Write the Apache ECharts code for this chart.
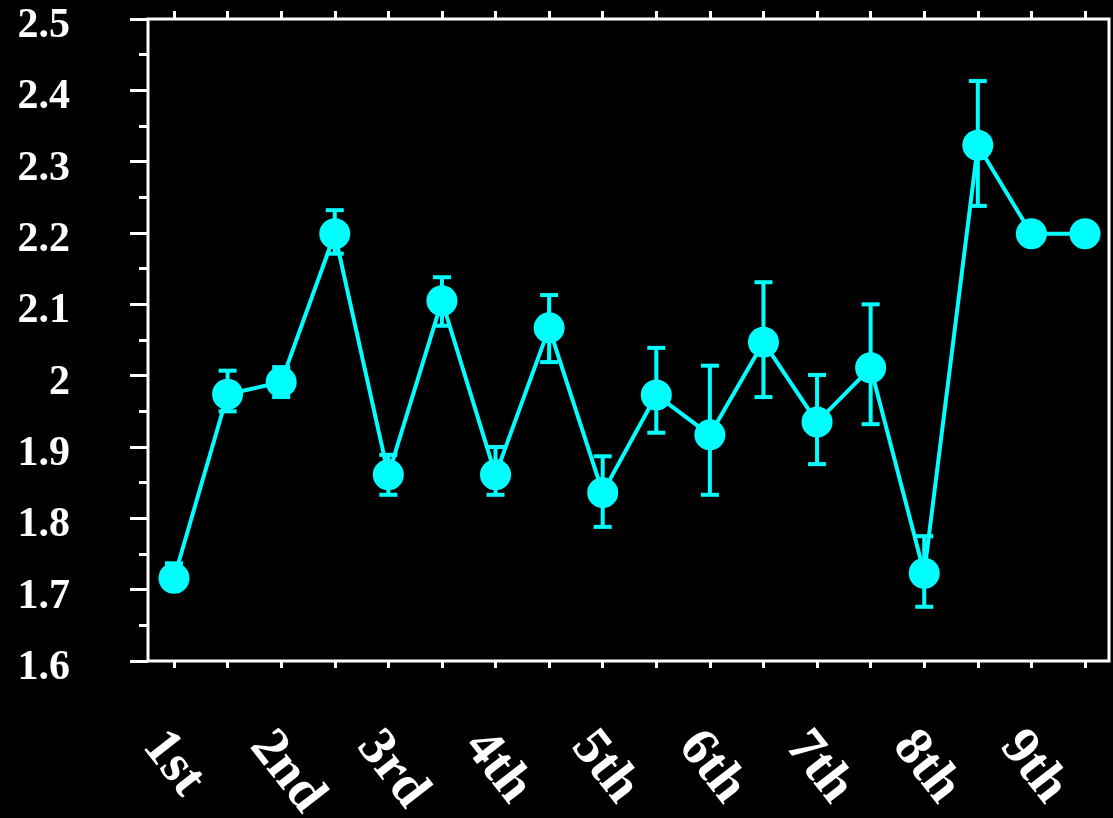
<!DOCTYPE html>
<html>
<head>
<meta charset="utf-8">
<script src="https://cdn.jsdelivr.net/npm/echarts@6/dist/echarts.min.js"></script>
<style>
html,body{margin:0;padding:0;background:#000;}
#chart{width:1113px;height:818px;}
</style>
</head>
<body>
<div id="chart"></div>
<script>
const tickLabels = ['1st','2nd','3rd','4th','5th','6th','7th','8th','9th'];
const means = [1.716,1.974,1.991,2.199,1.861,2.105,1.861,2.067,1.836,1.973,1.917,2.047,1.935,2.011,1.723,2.323,2.199,2.199];
const upper = [1.737,2.007,2.012,2.232,1.889,2.138,1.900,2.113,1.887,2.039,2.014,2.131,2.001,2.100,1.775,2.413,null,null];
const lower = [1.702,1.950,1.970,2.171,1.833,2.070,1.833,2.019,1.788,1.920,1.833,1.970,1.876,1.932,1.676,2.238,null,null];

const CYAN = '#00ffff';
const FONT = '"Liberation Serif","Times New Roman",serif';

const lineData = means.map((v, i) => [i, v]);
const errData = [];
upper.forEach((u, i) => { if (u != null && lower[i] != null) errData.push([i, lower[i], u]); });

const chart = echarts.init(document.getElementById('chart'));
chart.setOption({
  backgroundColor: '#000',
  animation: false,
  grid: [
    { left: 174, right: 28, top: 19, bottom: 157, show: false, containLabel: false, outerBoundsMode: 'none' },
    { left: 148, right: 4, top: 19, bottom: 157, show: true, borderColor: '#fff', borderWidth: 3, backgroundColor: 'transparent', containLabel: false, outerBoundsMode: 'none' }
  ],
  xAxis: [
    {
      gridIndex: 0, type: 'value', min: 0, max: 17, interval: 1, position: 'bottom',
      axisLine: { show: false },
      axisTick: { show: true, inside: false, length: 7, lineStyle: { color: '#fff', width: 3 } },
      splitLine: { show: false },
      axisLabel: {
        show: true, interval: 0, rotate: -52, align: 'left', verticalAlign: 'top', margin: 60,
        color: '#fff', fontFamily: FONT, fontWeight: 'bold', fontSize: 54,
        formatter: v => (v % 2 === 0 ? (tickLabels[v / 2] || '') : '')
      }
    },
    {
      gridIndex: 0, type: 'value', min: 0, max: 17, interval: 1, position: 'top',
      axisLine: { show: false },
      axisTick: { show: true, inside: false, length: 8, lineStyle: { color: '#fff', width: 3 } },
      splitLine: { show: false },
      axisLabel: { show: false }
    },
    { gridIndex: 1, type: 'value', show: false, min: 0, max: 1 }
  ],
  yAxis: [
    { gridIndex: 0, type: 'value', min: 1.6, max: 2.5, show: false },
    {
      gridIndex: 1, type: 'value', min: 1.6, max: 2.5, interval: 0.1, position: 'left',
      axisLine: { show: false },
      axisTick: { show: true, inside: false, length: 18, lineStyle: { color: '#fff', width: 3 } },
      minorTick: { show: true, splitNumber: 2, length: 9, lineStyle: { color: '#fff', width: 3 } },
      splitLine: { show: false },
      minorSplitLine: { show: false },
      axisLabel: {
        show: true, margin: 78, align: 'right', verticalAlign: 'top', lineHeight: 14,
        color: '#fff', fontFamily: FONT, fontWeight: 'bold', fontSize: 42,
        formatter: v => String(+v.toFixed(1))
      }
    }
  ],
  series: [
    {
      type: 'custom', xAxisIndex: 0, yAxisIndex: 0, z: 2,
      data: errData,
      renderItem: function (params, api) {
        const x = api.value(0);
        const lo = api.coord([x, api.value(1)]);
        const hi = api.coord([x, api.value(2)]);
        const hw = 9;
        const style = { stroke: CYAN, lineWidth: 4 };
        return {
          type: 'group',
          children: [
            { type: 'line', shape: { x1: hi[0], y1: hi[1], x2: lo[0], y2: lo[1] }, style: style },
            { type: 'line', shape: { x1: hi[0] - hw, y1: hi[1], x2: hi[0] + hw, y2: hi[1] }, style: style },
            { type: 'line', shape: { x1: lo[0] - hw, y1: lo[1], x2: lo[0] + hw, y2: lo[1] }, style: style }
          ]
        };
      }
    },
    {
      type: 'line', xAxisIndex: 0, yAxisIndex: 0, z: 3,
      data: lineData,
      symbol: 'circle', symbolSize: 31,
      lineStyle: { color: CYAN, width: 4 },
      itemStyle: { color: CYAN }
    }
  ]
});
</script>
</body>
</html>
